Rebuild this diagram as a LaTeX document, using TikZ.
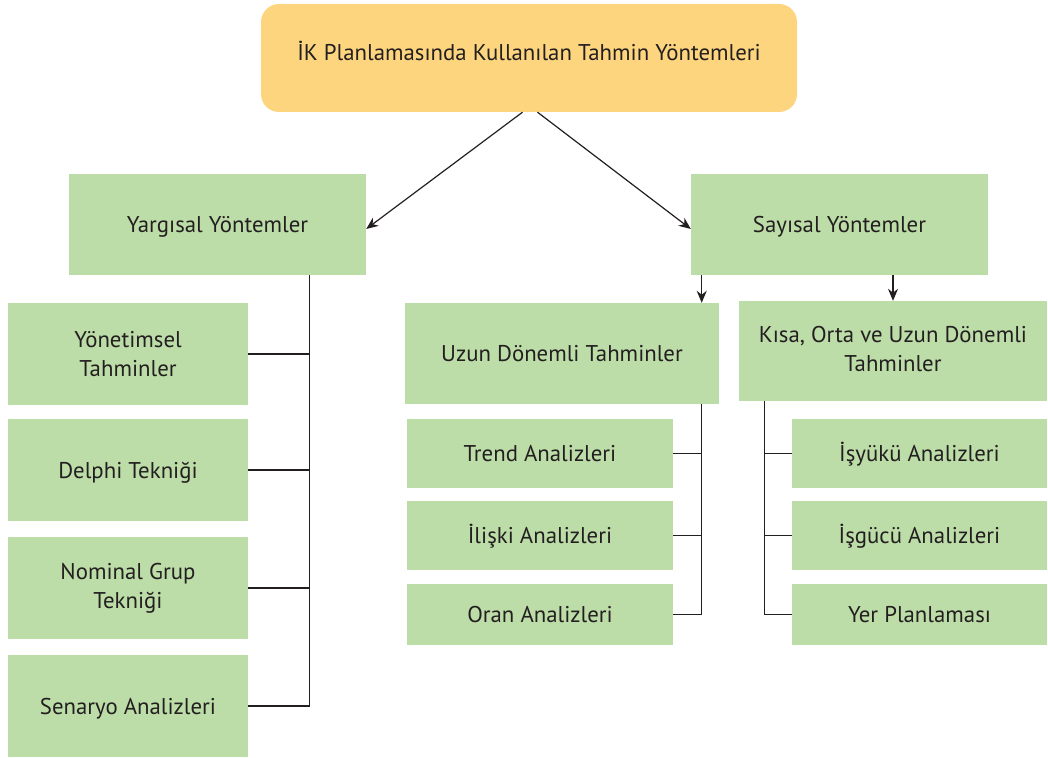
\documentclass[tikz,border=0pt]{standalone}
\usepackage{fontspec}
\setmainfont{PT Sans}
\usetikzlibrary{arrows.meta}
\definecolor{boxgreen}{HTML}{BDDDA8}
\definecolor{boxyellow}{HTML}{FDD57E}
\definecolor{ink}{HTML}{231F20}
\tikzset{
  gbox/.style={fill=boxgreen, draw=none, inner sep=0pt, align=center, text=ink},
  ybox/.style={fill=boxyellow, draw=none, inner sep=0pt, align=center, text=ink, rounded corners=18pt},
  oneline/.style={text height=16pt, text depth=0pt},
  conn/.style={draw=ink, line width=1.2pt},
  arr/.style={draw=ink, line width=1.2pt, -{Stealth[length=12pt,width=10pt]}}
}
\begin{document}
\begin{tikzpicture}[x=1pt, y=-1pt, font=\fontsize{22.8}{29}\selectfont]
\useasboundingbox (0,0) rectangle (1048,757);

% root
\node[ybox, text height=16pt, text depth=10pt, minimum width=536pt, minimum height=108pt] (top) at (529,58) {İK Planlamasında Kullanılan Tahmin Yöntemleri};

% second level
\node[gbox, oneline, minimum width=297pt, minimum height=101pt] (yar) at (217.5,224.5) {Yargısal Yöntemler};
\node[gbox, oneline, minimum width=297pt, minimum height=101pt] (say) at (839.5,224.5) {Sayısal Yöntemler};

% judgemental methods
\node[gbox, minimum width=240pt, minimum height=102pt] (yon) at (128,354) {Yönetimsel\\Tahminler};
\node[gbox, oneline, minimum width=240pt, minimum height=102pt] (del) at (128,470) {Delphi Tekniği};
\node[gbox, minimum width=240pt, minimum height=102pt] (nom) at (128,588) {Nominal Grup\\Tekniği};
\node[gbox, oneline, minimum width=240pt, minimum height=102pt] (sen) at (128,706) {Senaryo Analizleri};

% quantitative methods
\node[gbox, oneline, minimum width=314pt, minimum height=101pt] (uzun) at (562,353.5) {Uzun Dönemli Tahminler};
\node[gbox, minimum width=308pt, minimum height=100pt] (kisa) at (893,351)
  {\raisebox{17pt}{\begin{tabular}{@{}c@{}}Kısa, Orta ve Uzun Dönemli\\Tahminler\end{tabular}}};

\node[gbox, oneline, minimum width=266pt, minimum height=69pt] (tre) at (540,453.5) {Trend Analizleri};
\node[gbox, oneline, minimum width=266pt, minimum height=69pt] (ili) at (540,535.5) {İlişki Analizleri};
\node[gbox, oneline, minimum width=266pt, minimum height=61pt] (ora) at (540,614.5) {Oran Analizleri};

\node[gbox, oneline, minimum width=255pt, minimum height=69pt] (isy) at (919.5,453.5) {İşyükü Analizleri};
\node[gbox, oneline, minimum width=255pt, minimum height=69pt] (isg) at (919.5,535.5) {İşgücü Analizleri};
\node[gbox, oneline, minimum width=255pt, minimum height=61pt] (yer) at (919.5,614.5) {Yer Planlaması};

% trunk lines
\coordinate (ltrunk) at (309.5,0);
\coordinate (mtrunk) at (701.7,0);
\coordinate (rtrunk) at (764.7,0);

% arrows from the root
\draw[arr] ([xshift=-6.5pt]top.south) -- ([yshift=-4.5pt]yar.east);
\draw[arr] ([xshift=8.5pt]top.south) -- ([yshift=-4.5pt]say.west);

% arrows from quantitative methods
\draw[arr] (say.south -| mtrunk) -- (uzun.north -| mtrunk);
\draw[arr] (say.south -| kisa.north) -- (kisa.north);

% left tree
\draw[conn] (yar.south -| ltrunk) -- (sen.east -| ltrunk) -- (sen.east);
\draw[conn] (yon.east) -- (yon.east -| ltrunk);
\draw[conn] (del.east) -- (del.east -| ltrunk);
\draw[conn] (nom.east) -- (nom.east -| ltrunk);

% middle tree
\draw[conn] (uzun.south -| mtrunk) -- (ora.east -| mtrunk) -- (ora.east);
\draw[conn] (tre.east) -- (tre.east -| mtrunk);
\draw[conn] (ili.east) -- (ili.east -| mtrunk);

% right tree
\draw[conn] (kisa.south -| rtrunk) -- (yer.west -| rtrunk) -- (yer.west);
\draw[conn] (isy.west) -- (isy.west -| rtrunk);
\draw[conn] (isg.west) -- (isg.west -| rtrunk);
\end{tikzpicture}
\end{document}
